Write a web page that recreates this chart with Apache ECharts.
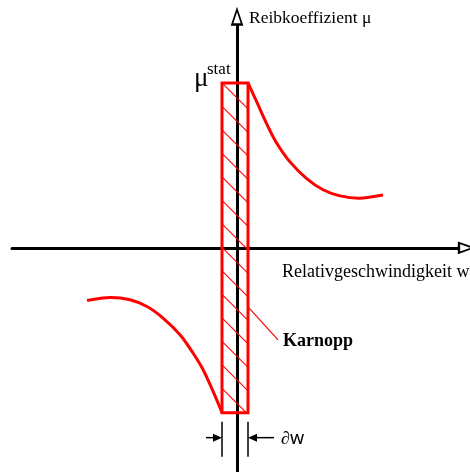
<!DOCTYPE html>
<html>
<head>
<meta charset="utf-8">
<script src="https://cdn.jsdelivr.net/npm/echarts@6/dist/echarts.min.js"></script>
<style>
  html, body { margin: 0; padding: 0; background: #fff; }
  #chart { width: 470px; height: 472px; }
</style>
</head>
<body>
<div id="chart"></div>
<script>
// Friction coefficient over relative velocity, Karnopp stick band
const wRight = [0.11, 0.20, 0.29, 0.39, 0.53, 0.70, 0.86, 1.03, 1.23, 1.46];
const muRight = [1.0, 0.882, 0.761, 0.642, 0.521, 0.418, 0.352, 0.315, 0.301, 0.320];
const wLeft = [-1.50, -1.27, -1.07, -0.90, -0.74, -0.57, -0.44, -0.34, -0.24, -0.15];
const muLeft = [-0.319, -0.301, -0.315, -0.356, -0.426, -0.527, -0.638, -0.738, -0.870, -1.0];
const bandW = [-0.15, 0.11];      // Karnopp band, width ∂w
const muStat = 1.0;               // static friction level
const axisTitles = ['Relativgeschwindigkeit w', 'Reibkoeffizient μ'];
const bandLabel = 'Karnopp';
const bandWidthLabel = '∂w';

const RED = '#ff0000';
const serif = 'Liberation Serif';

const chart = echarts.init(document.getElementById('chart'), null, { renderer: 'canvas' });

function renderBand(params, api) {
  const tl = api.coord([api.value(0), api.value(3)]);
  const br = api.coord([api.value(1), api.value(2)]);
  const x1 = tl[0], y1 = tl[1], x2 = br[0], y2 = br[1];
  const w = x2 - x1;
  const children = [];
  // 45° hatching inside the band
  const step = 23.5;
  for (let y0 = y1; y0 < y2 - 1; y0 += step) {
    let ex = x2, ey = y0 + w;
    if (ey > y2) { ey = y2; ex = x1 + (y2 - y0); }
    children.push({
      type: 'line',
      shape: { x1: x1, y1: y0, x2: ex, y2: ey },
      style: { stroke: RED, lineWidth: 1.1 }
    });
  }
  children.push({
    type: 'rect',
    shape: { x: x1, y: y1, width: w, height: y2 - y1 },
    style: { fill: null, stroke: RED, lineWidth: 3 }
  });
  // leader line to the band label
  children.push({
    type: 'line',
    shape: { x1: x2, y1: y1 + 224, x2: x2 + 30, y2: y1 + 257 },
    style: { stroke: RED, lineWidth: 1.2 }
  });
  // dimension marks for the band width
  const ty0 = y2 + 9, ty1 = y2 + 44, ay = y2 + 25;
  const k = { stroke: '#000', lineWidth: 1.5 };
  children.push({ type: 'line', shape: { x1: x1, y1: ty0, x2: x1, y2: ty1 }, style: k });
  children.push({ type: 'line', shape: { x1: x2, y1: ty0, x2: x2, y2: ty1 }, style: k });
  children.push({ type: 'line', shape: { x1: x1 - 16, y1: ay, x2: x1 - 7, y2: ay }, style: k });
  children.push({ type: 'line', shape: { x1: x2 + 7, y1: ay, x2: x2 + 26, y2: ay }, style: k });
  children.push({ type: 'polygon', shape: { points: [[x1, ay], [x1 - 9, ay - 4], [x1 - 9, ay + 4]] }, style: { fill: '#000' } });
  children.push({ type: 'polygon', shape: { points: [[x2, ay], [x2 + 9, ay - 4], [x2 + 9, ay + 4]] }, style: { fill: '#000' } });
  children.push({
    type: 'text',
    style: { text: bandWidthLabel, x: x2 + 33, y: ay + 1, fill: '#000', font: '18px "Noto Sans"', verticalAlign: 'middle', align: 'left' }
  });
  return { type: 'group', children: children };
}

// Catmull-Rom spline through pixel points, written as cubic Bézier path data
function splinePath(pts) {
  let d = 'M' + pts[0][0] + ' ' + pts[0][1];
  for (let i = 0; i < pts.length - 1; i++) {
    const p0 = pts[Math.max(i - 1, 0)];
    const p1 = pts[i];
    const p2 = pts[i + 1];
    const p3 = pts[Math.min(i + 2, pts.length - 1)];
    const c1x = p1[0] + (p2[0] - p0[0]) / 6, c1y = p1[1] + (p2[1] - p0[1]) / 6;
    const c2x = p2[0] - (p3[0] - p1[0]) / 6, c2y = p2[1] - (p3[1] - p1[1]) / 6;
    d += ' C' + c1x + ' ' + c1y + ' ' + c2x + ' ' + c2y + ' ' + p2[0] + ' ' + p2[1];
  }
  return d;
}

// one friction branch drawn as a single smooth path
function curveSeries(ws, mus) {
  return {
    type: 'custom',
    clip: false,
    z: 4,
    data: ws.map((w, i) => [w, mus[i]]),
    renderItem: function (params, api) {
      if (params.dataIndex !== 0) return null;
      const pts = ws.map((w, i) => api.coord([w, mus[i]]));
      return {
        type: 'path',
        shape: { pathData: splinePath(pts) },
        style: { fill: null, stroke: RED, lineWidth: 3, lineJoin: 'round' }
      };
    }
  };
}

const axisLineStyle = { color: '#000', width: 3 };

chart.setOption({
  animation: false,
  backgroundColor: '#fff',
  grid: { left: 12, right: 2, top: 17, height: 455.4, containLabel: false },
  xAxis: {
    type: 'value', min: -2.25, max: 2.31,
    axisLine: { show: true, onZero: true, lineStyle: axisLineStyle },
    axisTick: { show: false }, axisLabel: { show: false }, splitLine: { show: false }
  },
  yAxis: {
    type: 'value', min: -1.36, max: 1.4,
    axisLine: { show: true, onZero: true, lineStyle: axisLineStyle },
    axisTick: { show: false }, axisLabel: { show: false }, splitLine: { show: false }
  },
  series: [
    {
      type: 'custom',
      renderItem: renderBand,
      clip: false,
      z: 3,
      data: [[bandW[0], bandW[1], -muStat, muStat]]
    },
    curveSeries(wRight, muRight),
    curveSeries(wLeft, muLeft),
    {
      // open arrowheads at the axis ends
      type: 'scatter',
      clip: false,
      symbol: 'triangle',
      z: 5,
      itemStyle: { color: '#fff', borderColor: '#000', borderWidth: 2, opacity: 1 },
      data: [
        { value: [0, 1.4], symbolSize: [10, 15], symbolRotate: 0 },
        { value: [2.29, 0], symbolSize: [10, 14], symbolRotate: -90 }
      ]
    }
  ],
  graphic: [
    { type: 'text', left: 249, top: 9, style: { text: axisTitles[1], font: '17.5px "' + serif + '"', fill: '#000' } },
    { type: 'text', left: 282, top: 263, style: { text: axisTitles[0], font: '18px "' + serif + '"', fill: '#000' } },
    { type: 'text', left: 283, top: 332, style: { text: bandLabel, font: 'bold 18px "' + serif + '"', fill: '#000' } },
    { type: 'text', left: 194, top: 65, style: { text: 'μ', font: '27px "' + serif + '"', fill: '#000' } },
    { type: 'text', left: 207, top: 61, style: { text: 'stat', font: '17px "' + serif + '"', fill: '#000' } }
  ]
});
</script>
</body>
</html>
